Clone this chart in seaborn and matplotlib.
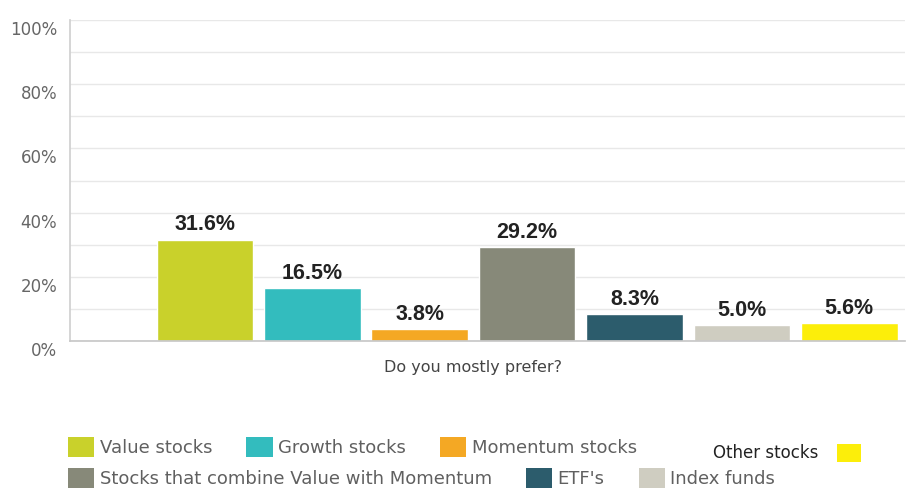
import matplotlib
matplotlib.use("Agg")
import matplotlib.pyplot as plt
import matplotlib.transforms as mtransforms
from matplotlib.patches import Patch
import seaborn as sns
import pandas as pd

categories = ["Value stocks", "Growth stocks", "Momentum stocks",
              "Stocks that combine Value with Momentum", "ETF's",
              "Index funds", "Other stocks"]
values = [31.6, 16.5, 3.8, 29.2, 8.3, 5.0, 5.6]
colors = ["#c9d12b", "#33bcbe", "#f4a824", "#878979", "#2c5c6c",
          "#cfcdc1", "#fcee0a"]
y_ticks = [0, 20, 40, 60, 80, 100]
y_tick_labels = ["0%", "20%", "40%", "60%", "80%", "100%"]

df = pd.DataFrame({"category": categories, "value": values})

sns.set_theme(style="white")
plt.rcParams["font.family"] = ["DejaVu Sans"]

fig = plt.figure(figsize=(9.06, 4.88), dpi=100)
ax = fig.add_axes([0.077, 0.301, 0.922, 0.658])

sns.barplot(data=df, x="category", y="value", hue="category",
            palette=colors, order=categories, hue_order=categories,
            width=0.9, legend=False, saturation=1, ax=ax)

for c in ax.containers:
    ax.bar_label(c, fmt="%.1f%%", padding=3, fontsize=15.5, fontweight="bold",
                 family=["Liberation Sans Narrow", "Liberation Sans"],
                 color="#222222")

ax.set_xlim(-1.26, 6.52)
ax.set_ylim(0, 100)
ax.set_yticks(y_ticks)
ax.set_yticklabels(y_tick_labels)
ax.set_yticks(range(0, 101, 10), minor=True)
ax.grid(axis="y", which="both", color="#e8e8e8", linewidth=1)
ax.set_axisbelow(True)
ax.set_xticks([])
ax.tick_params(axis="y", which="both", length=0, labelsize=12,
               labelcolor="#666666", pad=9)
offset = mtransforms.ScaledTranslation(0, -8 / 100, fig.dpi_scale_trans)
for lbl in ax.get_yticklabels():
    lbl.set_transform(lbl.get_transform() + offset)

for side in ["top", "right"]:
    ax.spines[side].set_visible(False)
ax.spines["left"].set_color("#d0d0d0")
ax.spines["bottom"].set_color("#c8c8c8")

ax.set_xlabel("Do you mostly prefer?", fontsize=11.5, color="#444444")
ax.xaxis.set_label_coords(0.483, -0.06)
ax.set_ylabel("")

handles = [Patch(facecolor=col, edgecolor="none") for col in colors]

leg_kw = dict(frameon=False, fontsize=13, handlelength=1.45,
              handleheight=1.3, handletextpad=0.3, columnspacing=1.9,
              labelcolor="#606060", borderaxespad=0, borderpad=0)

row1 = fig.legend(handles[0:3], categories[0:3], ncol=3, loc="center left",
                  bbox_to_anchor=(0.075, 0.084), **leg_kw)
row2 = fig.legend(handles[3:6], categories[3:6], ncol=3, loc="center left",
                  bbox_to_anchor=(0.075, 0.02), **leg_kw)
other_kw = dict(leg_kw)
other_kw.update(labelcolor="#222222", fontsize=12, handletextpad=1.1)
other = fig.legend(handles[6:7], categories[6:7], loc="center left",
                   markerfirst=False, bbox_to_anchor=(0.787, 0.072),
                   **other_kw)

fig.savefig("out.png", dpi=100)
